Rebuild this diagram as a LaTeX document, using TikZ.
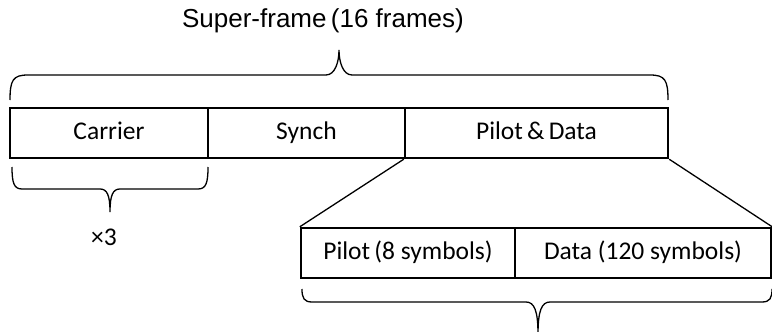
\documentclass[tikz,border=0pt]{standalone}
\usepackage{fontspec}
\setmainfont{Carlito}
\newfontfamily\arialf{Liberation Sans}
\usetikzlibrary{calc}
\begin{document}
\begin{tikzpicture}[x=1pt,y=-1pt,
  cell/.style={draw,line width=2.4pt,minimum height=50pt,inner sep=0pt,text height=17pt,text depth=5pt,font=\fontsize{25.5}{28}\selectfont},
  thin/.style={line width=1.3pt},
  lbl/.style={inner sep=0pt,font=\fontsize{25.5}{28}\selectfont}]
\useasboundingbox (0,0) rectangle (772,332);
% title
\node[inner sep=0pt,font=\arialf\fontsize{26}{28}\selectfont] (title) at (323,21) {Super-frame\,(16 frames)};
% top row
\node[cell,minimum width=198pt] (carrier) at (109,133) {Carrier};
\node[cell,minimum width=197pt] (synch) at (306.5,133) {Synch};
\node[cell,minimum width=263pt] (pd) at (536.5,133) {Pilot\,\&\,Data};
% lower row
\node[cell,minimum width=214pt] (pilot) at (408,253) {Pilot\,(8 symbols)};
\node[cell,minimum width=256pt] (data) at (643,253) {Data (120 symbols)};
% zoom lines
\draw[thin] (pd.south west) -- (pilot.north west);
\draw[thin] (pd.south east) -- (data.north east);
% top brace
\coordinate (tb) at (339,50);
\draw[thin] (10,100) .. controls (10,80) and (13,75) .. (28,75) -- (326,75)
  .. controls (335,75) and (339,62) .. (tb)
  .. controls (339,62) and (343,75) .. (352,75) -- (650,75)
  .. controls (665,75) and (668,80) .. (668,100);
% x3 brace
\coordinate (xb) at (110,212);
\draw[thin] (12,167) .. controls (12,183) and (14,189) .. (22,189) -- (100,189)
  .. controls (107,189) and (110,195) .. (xb)
  .. controls (110,195) and (113,189) .. (120,189) -- (198,189)
  .. controls (206,189) and (208,183) .. (208,167);
\node[lbl] (x3) at (104,237) {×3};
% bottom brace
\coordinate (bb) at (538,334);
\draw[thin] (302,289) .. controls (302,298) and (304,302) .. (312,302) -- (526,302)
  .. controls (534,302) and (538,310) .. (bb)
  .. controls (538,310) and (542,302) .. (550,302) -- (762,302)
  .. controls (770,302) and (772,298) .. (772,289);
\end{tikzpicture}
\end{document}
